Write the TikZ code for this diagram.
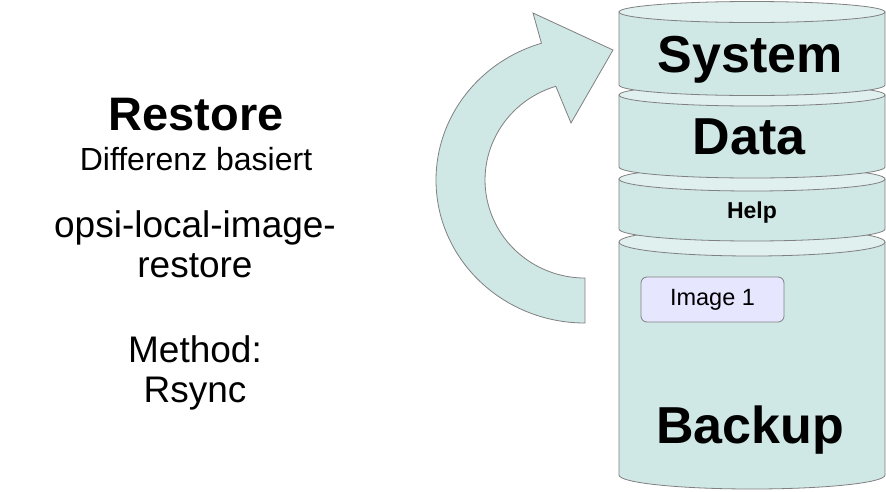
\documentclass[tikz,border=0pt]{standalone}
\usepackage{fontspec}
\setmainfont{Liberation Sans}
\definecolor{diskfill}{HTML}{CFE7E5}
\definecolor{disktop}{HTML}{E0F0EF}
\definecolor{edgegray}{HTML}{808080}
\definecolor{imagefill}{HTML}{E6E6FF}
\newcommand{\fsz}[1]{\fontsize{#1}{#1}\selectfont}
% one layer of the stack: top y, bottom y, half height of the ellipse
\newcommand{\drawlayer}[3]{%
	\filldraw[layerbody] (619,#1) -- (619,#2) arc[start angle=180, end angle=360, x radius=133pt, y radius=#3pt] -- (885,#1) -- cycle;
	\filldraw[layertop] (752,#1) ellipse[x radius=133pt, y radius=#3pt];
}
\begin{document}
\begin{tikzpicture}[x=1pt,y=-1pt,
	layerbody/.style={fill=diskfill, draw=edgegray, line width=0.8pt},
	layertop/.style={fill=disktop, draw=edgegray, line width=0.8pt},
	bigword/.style={anchor=base, font=\fsz{52}\bfseries},
	infotext/.style={anchor=base, font=\fsz{37}}]
	\useasboundingbox (0,0) rectangle (886,491);
	% curved arrow
	\filldraw[layerbody] (585,323) arc[start angle=270, end angle=107, x radius=149pt, y radius=143pt]
		-- (533,13) -- (613,50) -- (571,123) -- (555.8,86.3)
		arc[start angle=107, end angle=270, x radius=100pt, y radius=98pt] -- cycle;
	% stack, lowest first
	\drawlayer{242}{475}{14}
	\drawlayer{179}{229}{12}
	\drawlayer{95}{167}{11}
	\drawlayer{12}{85}{10.5}
	\node (system) at (750,72)	[bigword]	{System};
	\node (data) at (749,154)	[bigword]	{Data};
	\node (help) at (752,218)	[anchor=base, font=\fsz{23}\bfseries]	{Help};
	\node (backup) at (750,443)	[bigword]	{Backup};
	\node (img1) at (712.5,299.5)	[fill=imagefill, draw=edgegray, line width=0.8pt, rounded corners=6pt, minimum width=143pt, minimum height=45pt, inner sep=0pt, font=\fsz{23.5}]	{Image 1};
	% text on the left
	\node (restore) at (196,130)	[anchor=base, font=\fsz{47}\bfseries]	{Restore};
	\node (diff) at (196,170)	[anchor=base, font=\fsz{32}]	{Differenz basiert};
	\node (tool1) at (195,237)	[infotext]	{opsi-local-image-};
	\node (tool2) at (195,277)	[infotext]	{restore};
	\node (method) at (195,362)	[infotext]	{Method:};
	\node (rsync) at (195,402)	[infotext]	{Rsync};
\end{tikzpicture}
\end{document}
